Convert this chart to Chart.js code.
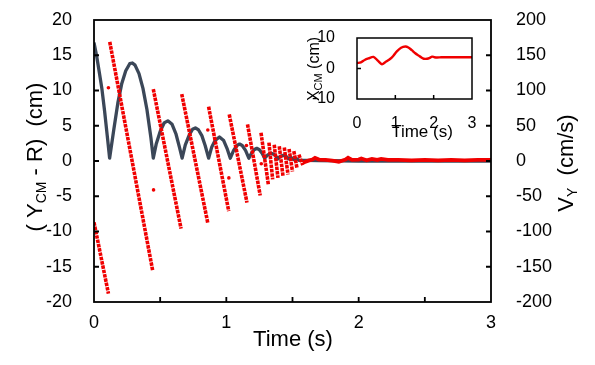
<!DOCTYPE html>
<html>
<head>
<meta charset="utf-8">
<script src="https://cdn.jsdelivr.net/npm/chart.js@4.4.1/dist/chart.umd.min.js"></script>
<style>
  body { margin: 0; background: #fff; }
  #wrap { position: relative; width: 595px; height: 365px; }
  #main { position: absolute; left: 0; top: 0; }
  #inset { position: absolute; left: 290px; top: 15px; }
</style>
</head>
<body>
<div id="wrap">
  <canvas id="main" width="595" height="365"></canvas>
  <canvas id="inset" width="200" height="130"></canvas>
</div>
<script>
// height of centre of mass above the ground, (Y_CM - R) in cm
const greyT = [0, 0.02, 0.04, 0.06, 0.08, 0.10, 0.118,
  0.15, 0.18, 0.21, 0.24, 0.27, 0.29, 0.31, 0.34, 0.37, 0.40, 0.43, 0.448,
  0.47, 0.50, 0.53, 0.558, 0.59, 0.62, 0.645, 0.666,
  0.69, 0.72, 0.745, 0.766, 0.79, 0.815, 0.84, 0.866,
  0.89, 0.915, 0.948, 0.98, 1.005, 1.03,
  1.055, 1.08, 1.10, 1.12, 1.145, 1.17,
  1.19, 1.21, 1.23, 1.25, 1.27, 1.29,
  1.315, 1.34, 1.365, 1.39,
  1.41, 1.43, 1.45, 1.47,
  1.49, 1.51, 1.53, 1.55, 1.60, 1.70, 2.0, 2.5, 3.0];
const greyY = [16.8, 14.9, 12.6, 10.2, 7.1, 3.6, 0.4,
  4.5, 8.2, 11.0, 12.8, 13.8, 13.9, 13.6, 12.4, 10.3, 7.3, 3.3, 0.4,
  2.4, 4.2, 5.4, 5.7, 5.2, 3.8, 2.0, 0.4,
  2.3, 3.7, 4.5, 4.7, 4.4, 3.6, 2.2, 0.4,
  2.0, 2.9, 3.4, 2.9, 1.8, 0.4,
  1.5, 2.2, 2.4, 2.2, 1.5, 0.4,
  1.1, 1.6, 1.8, 1.6, 1.1, 0.4,
  0.9, 1.1, 0.9, 0.3,
  0.7, 0.8, 0.7, 0.3,
  0.5, 0.2, 0.35, 0.1, 0.1, 0.05, 0, 0, 0];

// vertical velocity V_Y in cm/s: falling streaks between bounces
const streakT0 = [0, 0.119, 0.448, 0.663, 0.866, 1.022, 1.160, 1.262, 1.322, 1.362, 1.400, 1.438, 1.474, 1.510, 1.548];
const streakV0 = [-87, 169, 102, 95, 77, 66, 52, 40, 26, 23, 21, 19, 17, 14, 9];
const streakT1 = [0.109, 0.443, 0.658, 0.860, 1.018, 1.156, 1.256, 1.318, 1.350, 1.390, 1.428, 1.466, 1.500, 1.534, 1.578];
const streakV1 = [-188, -155, -96, -88, -71, -59, -49, -34, -26, -24, -21, -19, -15, -10, -6];

// single samples caught during the bounces
const bounceT = [0.109, 0.450, 0.860, 1.019, 1.152, 1.264];
const bounceV = [104, -41, 44, -24, 22, -4];

// resting on the ground
const restT = [1.578, 1.59, 1.62, 1.65, 1.67, 1.70, 1.75, 1.80, 1.85, 1.90, 1.92, 1.95, 2.00, 2.02, 2.06, 2.10, 2.14, 2.17, 2.22, 2.3, 2.4, 2.5, 2.6, 2.7, 2.8, 2.9, 3.0];
const restV = [-2, -1.5, 0.5, 2, 4.5, 2, 1.5, 0.5, -1, 2, 4.5, 1.5, 2, 3.5, 1, 3, 1.5, 3, 1.5, 1.5, 1, 1.5, 1, 1.5, 1, 1.5, 1.5];

// inset: X_CM (cm)
const insetT = [0, 0.1, 0.2, 0.3, 0.43, 0.55, 0.65, 0.75, 0.87, 0.95, 1.04, 1.15, 1.26, 1.34, 1.43, 1.52, 1.6, 1.68, 1.74, 1.83, 1.9, 1.96, 2.02, 2.09, 2.2, 2.5, 3.0];
const insetX = [1.8, 2.0, 2.8, 3.3, 3.8, 2.5, 1.4, 2.2, 3.2, 4.2, 5.6, 6.8, 7.2, 6.9, 6.0, 5.0, 4.3, 3.6, 3.2, 3.2, 3.5, 3.9, 3.7, 3.6, 3.7, 3.7, 3.7];

const FONT = '"Liberation Sans", Arial, sans-serif';
const RED = '#f00000';
const GREY = '#3b4758';

const pts = (xs, ys) => xs.map((x, i) => ({x: x, y: ys[i]}));

const streaks = [];
for (let i = 0; i < streakT0.length; i++) {
  streaks.push({x: streakT0[i], y: streakV0[i]});
  streaks.push({x: streakT1[i], y: streakV1[i]});
  streaks.push({x: streakT1[i], y: null});
}

// fixed axis sizes, no extra label padding, so the plot box sits where it should
const fitW = w => s => { s.width = w; s.paddingTop = 0; s.paddingBottom = 0; };
const fitH = h => s => { s.height = h; s.paddingLeft = 0; s.paddingRight = 0; };

// rich text with subscripts, centred on (cx, cy)
function drawRich(ctx, parts, cx, cy, rot) {
  ctx.save();
  ctx.translate(cx, cy);
  ctx.rotate(rot);
  ctx.textBaseline = 'middle';
  ctx.textAlign = 'left';
  ctx.fillStyle = '#000';
  let w = 0;
  parts.forEach(p => {
    ctx.font = p.size + 'px ' + FONT;
    p.w = ctx.measureText(p.text).width;
    w += p.w;
  });
  let x = -w / 2;
  parts.forEach(p => {
    ctx.font = p.size + 'px ' + FONT;
    ctx.fillText(p.text, x, p.dy || 0);
    x += p.w;
  });
  ctx.restore();
}

// box round the plot plus inward tick marks
function frameAndTicks(chart, xTicks, yTicks, yAxis, len, lw) {
  const ctx = chart.ctx;
  const a = chart.chartArea;
  const xs = chart.scales.x;
  const ys = chart.scales[yAxis];
  ctx.save();
  ctx.strokeStyle = '#000';
  ctx.lineWidth = lw;
  ctx.beginPath();
  xTicks.forEach(v => {
    const px = xs.getPixelForValue(v);
    ctx.moveTo(px, a.bottom);
    ctx.lineTo(px, a.bottom - len);
  });
  yTicks.forEach(v => {
    const py = ys.getPixelForValue(v);
    ctx.moveTo(a.left, py);
    ctx.lineTo(a.left + len, py);
    if (chart.scales.yR) {
      ctx.moveTo(a.right, py);
      ctx.lineTo(a.right - len, py);
    }
  });
  ctx.stroke();
  ctx.strokeRect(a.left, a.top, a.right - a.left, a.bottom - a.top);
  ctx.restore();
}

const mainDecor = {
  id: 'mainDecor',
  afterDraw(chart) {
    frameAndTicks(chart, [0.5, 1, 1.5, 2, 2.5], [-15, -10, -5, 0, 5, 10, 15], 'yL', 5, 1.8);
    const ctx = chart.ctx;
    drawRich(ctx, [
      {text: '( Y', size: 22},
      {text: 'CM', size: 14, dy: 6},
      {text: ' - R)  (cm)', size: 22}
    ], 36, 157, -Math.PI / 2);
    drawRich(ctx, [
      {text: 'V', size: 22},
      {text: 'Y', size: 14, dy: 6},
      {text: '  (cm/s)', size: 22}
    ], 567, 163, -Math.PI / 2);
    drawRich(ctx, [{text: 'Time (s)', size: 22}], 293, 340, 0);
  }
};

const tickFont = {family: FONT, size: 18};

new Chart(document.getElementById('main'), {
  type: 'line',
  data: {
    datasets: [
      {
        data: pts(bounceT, bounceV), yAxisID: 'yR', showLine: false,
        pointRadius: 1.8, pointBackgroundColor: RED, pointBorderWidth: 0
      },
      {
        data: streaks, yAxisID: 'yR', borderColor: RED, borderWidth: 3.6,
        borderDash: [3.5, 0.9], pointRadius: 0, spanGaps: false, tension: 0
      },
      {
        data: pts(restT, restV), yAxisID: 'yR', borderColor: RED, borderWidth: 3.8,
        pointRadius: 0, tension: 0
      },
      {
        data: pts(greyT, greyY), yAxisID: 'yL', borderColor: GREY, borderWidth: 3.3,
        pointRadius: 0, tension: 0, borderJoinStyle: 'round'
      }
    ]
  },
  options: {
    responsive: false,
    animation: false,
    layout: {padding: {top: 20}},
    plugins: {legend: {display: false}, tooltip: {enabled: false}},
    scales: {
      x: {
        type: 'linear', min: 0, max: 3,
        ticks: {
          stepSize: 0.5, autoSkip: false, maxRotation: 0, padding: 2,
          color: '#000', font: tickFont,
          callback: v => Number.isInteger(v) ? v : ''
        },
        grid: {display: false}, border: {display: false},
        afterFit: fitH(63)
      },
      yL: {
        position: 'left', min: -20, max: 20,
        ticks: {stepSize: 5, padding: 14, color: '#000', font: tickFont},
        grid: {display: false}, border: {display: false},
        afterFit: fitW(94)
      },
      yR: {
        position: 'right', min: -200, max: 200,
        ticks: {stepSize: 50, padding: 17, color: '#000', font: tickFont},
        grid: {display: false}, border: {display: false},
        afterFit: fitW(104)
      }
    }
  },
  plugins: [mainDecor]
});

const insetDecor = {
  id: 'insetDecor',
  afterDraw(chart) {
    frameAndTicks(chart, [1, 2], [0], 'y', 4, 1.5);
    const ctx = chart.ctx;
    drawRich(ctx, [
      {text: 'X', size: 16},
      {text: 'CM', size: 11, dy: 4},
      {text: ' (cm)', size: 16}
    ], 25, 54, -Math.PI / 2);
    drawRich(ctx, [{text: 'Time (s)', size: 17}], 132, 117, 0);
  }
};

const insetFont = {family: FONT, size: 16};

new Chart(document.getElementById('inset'), {
  type: 'line',
  data: {
    datasets: [{
      data: pts(insetT, insetX), borderColor: RED, borderWidth: 2.4,
      pointRadius: 0, tension: 0.3
    }]
  },
  options: {
    responsive: false,
    animation: false,
    layout: {padding: {top: 23, right: 18}},
    plugins: {legend: {display: false}, tooltip: {enabled: false}},
    scales: {
      x: {
        type: 'linear', min: 0, max: 3,
        ticks: {stepSize: 1, padding: 7, maxRotation: 0, color: '#000', font: insetFont},
        grid: {display: false}, border: {display: false},
        afterFit: fitH(46)
      },
      y: {
        min: -10, max: 10,
        ticks: {stepSize: 10, padding: 14, color: '#000', font: insetFont},
        grid: {display: false}, border: {display: false},
        afterFit: fitW(67)
      }
    }
  },
  plugins: [insetDecor]
});
</script>
</body>
</html>
